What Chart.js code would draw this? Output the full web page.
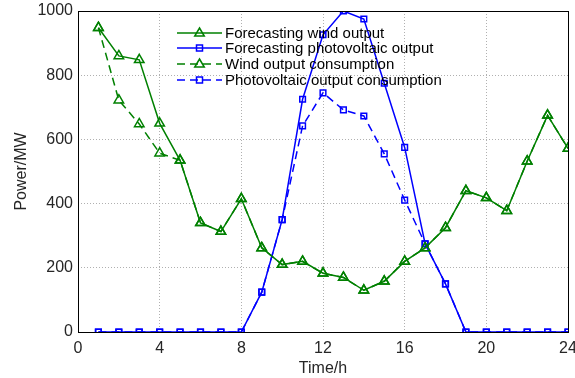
<!DOCTYPE html>
<html>
<head>
<meta charset="utf-8">
<script src="https://cdn.jsdelivr.net/npm/chart.js@4"></script>
<style>
  html, body { margin: 0; padding: 0; background: #fff; }
  #wrap { width: 575px; height: 378px; }
</style>
</head>
<body>
<div id="wrap"><canvas id="chart" width="575" height="378"></canvas></div>
<script>
const hours = [1, 2, 3, 4, 5, 6, 7, 8, 9, 10, 11, 12, 13, 14, 15, 16, 17, 18, 19, 20, 21, 22, 23, 24];
const windForecast = [948, 860, 848, 650, 535, 340, 313, 415, 262, 210, 220, 183, 170, 130, 158, 220, 262, 325, 440, 418, 378, 532, 675, 572];
const pvForecast = [0, 0, 0, 0, 0, 0, 0, 0, 124, 350, 725, 926, 1000, 975, 775, 575, 275, 150, 0, 0, 0, 0, 0, 0];
const windUsed = [948, 722, 648, 557, 535, 340, 313, 415, 262, 210, 220, 183, 170, 130, 158, 220, 262, 325, 440, 418, 378, 532, 675, 572];
const pvUsed = [0, 0, 0, 0, 0, 0, 0, 0, 124, 350, 642, 745, 692, 673, 555, 411, 275, 150, 0, 0, 0, 0, 0, 0];
const xTicks = [0, 4, 8, 12, 16, 20, 24];
const yTicks = [0, 200, 400, 600, 800, 1000];

const green = '#008000';
const blue = '#0000ff';
const FONT = 'Liberation Sans, Arial, sans-serif';

function pts(vals) {
    return hours.map((h, i) => ({ x: h, y: vals[i] }));
}

// draws the legend inside the plot, line + marker like matlab
const boxLegend = {
    id: 'boxLegend',
    afterDatasetsDraw(chart) {
        const ctx = chart.ctx;
        const rows = [33, 48, 64, 80];
        const x1 = 177, x2 = 222;
        ctx.save();
        chart.data.datasets.forEach((ds, i) => {
            const y = rows[i];
            ctx.strokeStyle = ds.borderColor;
            ctx.lineWidth = 1.5;
            ctx.setLineDash(ds.borderDash || []);
            ctx.beginPath();
            ctx.moveTo(x1, y);
            ctx.lineTo(x2, y);
            ctx.stroke();
            ctx.setLineDash([]);
            const cx = (x1 + x2) / 2;
            if (ds.pointStyle === 'triangle') {
                const r = 5;
                ctx.beginPath();
                ctx.moveTo(cx, y - r);
                ctx.lineTo(cx + r * 0.95, y + r * 0.6);
                ctx.lineTo(cx - r * 0.95, y + r * 0.6);
                ctx.closePath();
                ctx.stroke();
            } else {
                ctx.strokeRect(cx - 3, y - 3, 6, 6);
            }
            ctx.fillStyle = '#000';
            ctx.font = '15px ' + FONT;
            ctx.textBaseline = 'middle';
            ctx.fillText(ds.label, 225, y + 1);
        });
        ctx.restore();
    },
    afterDraw(chart) {
        const a = chart.chartArea;
        const ctx = chart.ctx;
        ctx.save();
        ctx.strokeStyle = '#000';
        ctx.lineWidth = 1;
        ctx.strokeRect(Math.round(a.left) + 0.5, Math.round(a.top) + 0.5, Math.round(a.right - a.left), Math.round(a.bottom - a.top));
        ctx.restore();
    }
};

new Chart(document.getElementById('chart'), {
    type: 'line',
    data: {
        datasets: [
            {
                label: 'Forecasting wind output',
                data: pts(windForecast),
                borderColor: green,
                backgroundColor: 'transparent',
                borderWidth: 1.5,
                pointStyle: 'triangle',
                pointRadius: 5.5,
                pointBorderWidth: 1.5,
                pointBackgroundColor: 'transparent',
                pointBorderColor: green
            },
            {
                label: 'Forecasting photovoltaic output',
                data: pts(pvForecast),
                borderColor: blue,
                backgroundColor: 'transparent',
                borderWidth: 1.5,
                pointStyle: 'rect',
                pointRadius: 4,
                pointBorderWidth: 1.5,
                pointBackgroundColor: 'transparent',
                pointBorderColor: blue
            },
            {
                label: 'Wind output consumption',
                data: pts(windUsed),
                borderColor: green,
                backgroundColor: 'transparent',
                borderWidth: 1.5,
                borderDash: [8, 5],
                pointStyle: 'triangle',
                pointRadius: 5.5,
                pointBorderWidth: 1.5,
                pointBackgroundColor: 'transparent',
                pointBorderColor: green
            },
            {
                label: 'Photovoltaic output consumption',
                data: pts(pvUsed),
                borderColor: blue,
                backgroundColor: 'transparent',
                borderWidth: 1.5,
                borderDash: [8, 5],
                pointStyle: 'rect',
                pointRadius: 4,
                pointBorderWidth: 1.5,
                pointBackgroundColor: 'transparent',
                pointBorderColor: blue
            }
        ]
    },
    options: {
        responsive: false,
        animation: false,
        layout: { padding: { left: 8, right: 7, top: 11, bottom: 0 } },
        plugins: {
            legend: { display: false },
            tooltip: { enabled: false }
        },
        scales: {
            x: {
                type: 'linear',
                min: 0,
                max: 24,
                afterBuildTicks(axis) { axis.ticks = xTicks.map(v => ({ value: v })); },
                afterFit(axis) { axis.height = 46; axis.paddingLeft = 0; axis.paddingRight = 0; },
                grid: { color: '#b0b0b0', tickLength: 0, drawTicks: false },
                border: { display: false, dash: [1, 2] },
                ticks: { color: '#262626', font: { family: FONT, size: 16 }, padding: 7, maxRotation: 0,
                    callback: v => String(v) },
                title: { display: true, text: 'Time/h', color: '#262626', font: { family: FONT, size: 16 }, padding: { top: 2, bottom: 0 } }
            },
            y: {
                min: 0,
                max: 1000,
                afterBuildTicks(axis) { axis.ticks = yTicks.map(v => ({ value: v })); },
                afterFit(axis) { axis.width = 70; axis.paddingTop = 0; axis.paddingBottom = 0; },
                grid: { color: '#b0b0b0', drawTicks: false },
                border: { display: false, dash: [1, 2] },
                ticks: { color: '#262626', font: { family: FONT, size: 16 }, padding: 5,
                    callback: v => String(v) },
                title: { display: true, text: 'Power/MW', color: '#262626', font: { family: FONT, size: 16 }, padding: { bottom: 6 } }
            }
        }
    },
    plugins: [boxLegend]
});
</script>
</body>
</html>
